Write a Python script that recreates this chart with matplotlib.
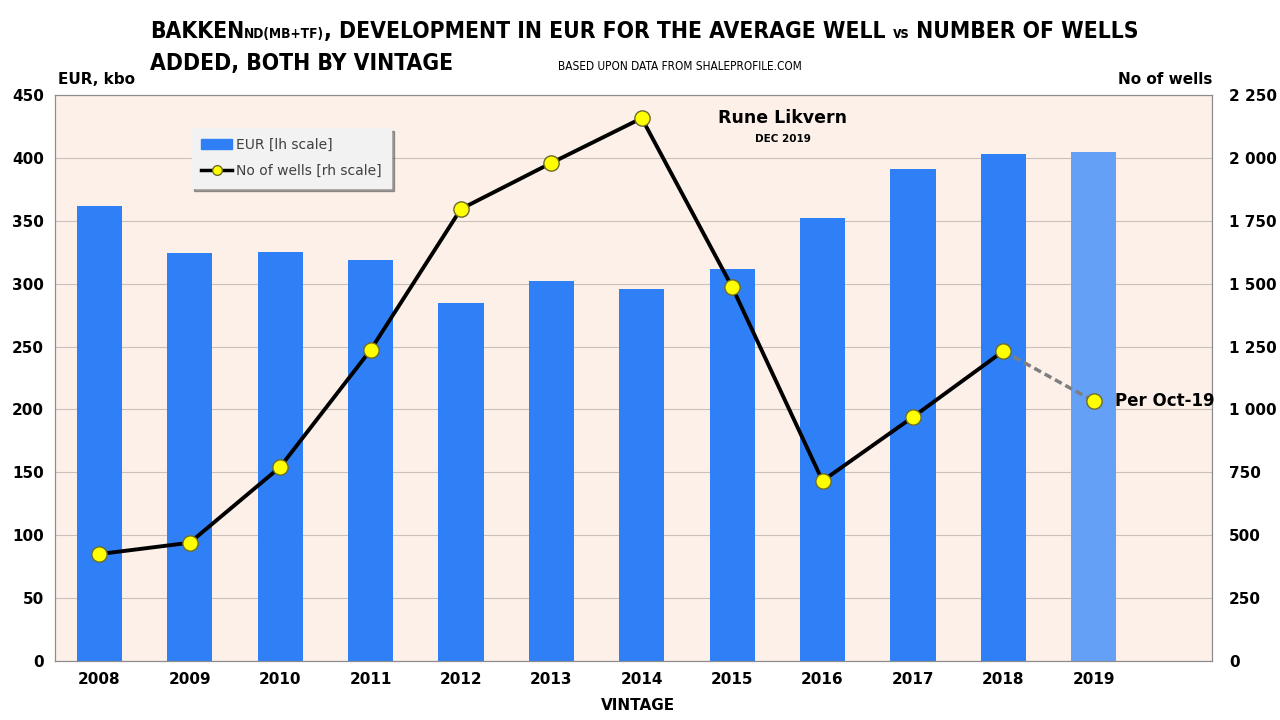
import numpy as np
import matplotlib
matplotlib.use("Agg")
import matplotlib.pyplot as plt
from matplotlib.ticker import FuncFormatter
from matplotlib.lines import Line2D
from matplotlib.patches import Patch

plt.rcParams['font.family'] = ['DejaVu Sans']

# Data
years = ["2008", "2009", "2010", "2011", "2012", "2013", "2014", "2015", "2016", "2017", "2018", "2019"]
eur_kbo = [362, 324, 325, 319, 285, 302, 296, 312, 352, 391, 403, 405]
wells = [425, 470, 771, 1236, 1797, 1980, 2158, 1487, 716, 970, 1232, 1033]

BAR = "#2F80F7"
BAR_LIGHT = "#64A0F5"
BG = "#FCF0E8"

fig = plt.figure(figsize=(12.8, 7.2), dpi=100)
ax = fig.add_axes([0.043, 0.082, 0.904, 0.786])
ax.set_facecolor(BG)
x = np.arange(len(years))
colors = [BAR] * (len(years) - 1) + [BAR_LIGHT]
ax.bar(x, eur_kbo, width=0.5, color=colors, zorder=2)
ax.set_ylim(0, 450)
ax.set_yticks(np.arange(0, 451, 50))
ax.set_xlim(-0.49, 12.31)
ax.set_xticks(x)
ax.set_xticklabels(years)
ax.grid(axis="y", color="#c8c0bb", lw=0.8, zorder=0)
for s in ax.spines.values():
    s.set_color("#8c8c8c")
ax.tick_params(length=0, pad=8)
for lbl in ax.get_xticklabels() + ax.get_yticklabels():
    lbl.set_fontweight("bold")
    lbl.set_fontsize(11)

ax2 = ax.twinx()
ax2.set_ylim(0, 2250)
ax2.set_yticks(np.arange(0, 2251, 250))
ax2.yaxis.set_major_formatter(FuncFormatter(lambda v, p: f"{int(v):,}".replace(",", " ")))
ax2.tick_params(length=0, pad=12)
for lbl in ax2.get_yticklabels():
    lbl.set_fontweight("bold")
    lbl.set_fontsize(11)
for s in ax2.spines.values():
    s.set_color("#8c8c8c")

ax2.plot(x[-2:], wells[-2:], color="#7f7f7f", lw=2.5, ls=(0, (2.2, 1.2)), zorder=3)
ax2.plot(x[:-1], wells[:-1], color="black", lw=2.8, zorder=4)
ax2.plot(x, wells, ls="none", marker="o", ms=11, mfc="#FFFF00", mec="#6b6b2a", mew=1, zorder=5)
ax2.annotate("Per Oct-19", (x[-1], wells[-1]), xytext=(15, 0), textcoords="offset points",
             va="center", ha="left", fontsize=12, fontweight="bold")

# axis captions
fig.text(97 / 1280, 1 - 80 / 720, "EUR, kbo", ha="center", va="center", fontsize=11, fontweight="bold")
fig.text(1165 / 1280, 1 - 80 / 720, "No of wells", ha="center", va="center", fontsize=11, fontweight="bold")
fig.text(638 / 1280, 1 - 706 / 720, "VINTAGE", ha="center", va="center", fontsize=11, fontweight="bold")
fig.text(783 / 1280, 1 - 118 / 720, "Rune Likvern", ha="center", va="center", fontsize=12.5, fontweight="bold")
fig.text(783 / 1280, 1 - 139 / 720, "DEC 2019", ha="center", va="center", fontsize=7.5, fontweight="bold")
fig.text(680 / 1280, 1 - 66 / 720, "BASED UPON DATA FROM SHALEPROFILE.COM", ha="center", va="center",
         fontsize=8.5, fontstretch="condensed")

# title, pieced together so the small parts sit inline; scaled to the reference width
renderer = fig.canvas.get_renderer()
def write_line(pieces, x0, y0, scale):
    xp = x0
    for txt, size in pieces:
        t = fig.text(xp, y0, txt, fontsize=size * scale, fontweight="bold", ha="left", va="baseline",
                     fontstretch="condensed")
        bb = t.get_window_extent(renderer=renderer)
        xp += bb.width / fig.bbox.width
    return xp

line1 = [("BAKKEN", 20), ("ND(MB+TF)", 12), (", DEVELOPMENT IN EUR FOR THE AVERAGE WELL ", 20),
         ("vs", 13), (" NUMBER OF WELLS", 20)]
n_before = len(fig.texts)
end = write_line(line1, 150 / 1280, 1 - 40 / 720, 1.0)
for t in fig.texts[n_before:]:
    t.remove()
scale = (987 / 1280) / (end - 150 / 1280)
write_line(line1, 150 / 1280, 1 - 38 / 720, scale)
write_line([("ADDED, BOTH BY VINTAGE", 20)], 150 / 1280, 1 - 70 / 720, scale)

# legend
handles = [Patch(color=BAR, label="EUR [lh scale]"),
           Line2D([], [], color="black", lw=2.5, marker="o", ms=7, mfc="#FFFF00", mec="#6b6b2a",
                  label="No of wells [rh scale]")]
leg = ax2.legend(handles=handles, loc="upper left", bbox_to_anchor=(0.118, 0.942), borderaxespad=0,
                 fancybox=False, shadow=True, framealpha=1, facecolor="#F2F2F2", edgecolor="#F2F2F2",
                 prop={"size": 10}, handlelength=2.2, handletextpad=0.3,
                 borderpad=0.7, labelspacing=0.9)
for t in leg.get_texts():
    t.set_color("#404040")

fig.savefig("out.png", dpi=100)
